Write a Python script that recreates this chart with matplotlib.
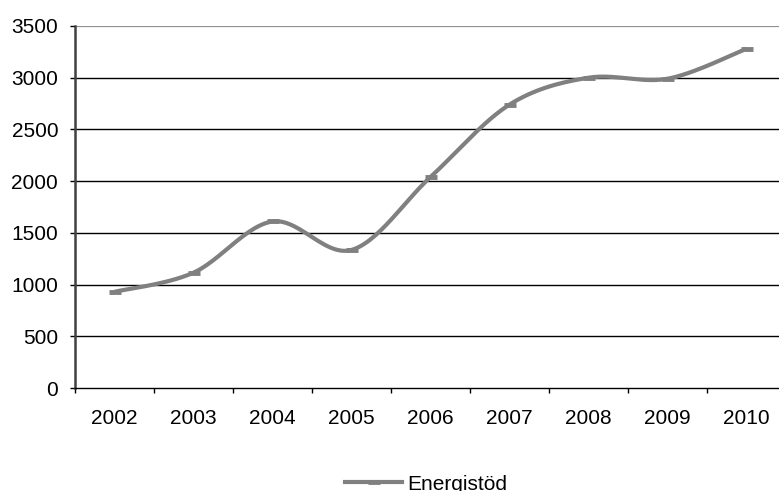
import numpy as np
import matplotlib.pyplot as plt
from matplotlib.lines import Line2D

plt.rcParams['font.family'] = ['Liberation Sans', 'DejaVu Sans']

years = ["2002", "2003", "2004", "2005", "2006", "2007", "2008", "2009", "2010"]
energistod = [930, 1115, 1610, 1335, 2040, 2740, 3000, 2990, 3280]
y_ticks = [0, 500, 1000, 1500, 2000, 2500, 3000, 3500]

line_color = "#808080"


def smooth(xs, ys, steps=30):
    # Catmull-Rom style bezier through every point, like a spreadsheet "smoothed line"
    pts = np.column_stack([xs, ys]).astype(float)
    padded = np.vstack([pts[0], pts, pts[-1]])
    out = []
    for i in range(len(pts) - 1):
        p0, p1, p2, p3 = padded[i], padded[i + 1], padded[i + 2], padded[i + 3]
        c1 = p1 + (p2 - p0) / 6
        c2 = p2 - (p3 - p1) / 6
        t = np.linspace(0, 1, steps)[:, None]
        seg = ((1 - t) ** 3) * p1 + 3 * ((1 - t) ** 2) * t * c1 + 3 * (1 - t) * t ** 2 * c2 + t ** 3 * p2
        out.append(seg if i == 0 else seg[1:])
    seg = np.vstack(out)
    return seg[:, 0], seg[:, 1]


fig = plt.figure(figsize=(7.79, 4.91), dpi=100)
ax = fig.add_axes([75 / 779, 103 / 491, 711 / 779, 362 / 491])

x = np.arange(len(years))
sx, sy = smooth(x, energistod)
ax.plot(sx, sy, color=line_color, lw=3, solid_capstyle='butt', zorder=3)
ax.plot(x, energistod, ls='none', marker='_', ms=8, mew=3.5, color=line_color, zorder=4)

ax.set_xlim(-0.5, len(years) - 0.5)
ax.set_ylim(0, 3500)
ax.set_yticks(y_ticks)
ax.set_yticklabels([str(v) for v in y_ticks])
ax.set_xticks(x)
ax.set_xticklabels(years)
ax.set_xticks(np.arange(-0.5, len(years), 1), minor=True)

for v in y_ticks[1:-1]:
    ax.axhline(v, color='black', lw=1, zorder=1)
ax.axhline(3500, color='#909090', lw=1.6, zorder=1)

for side in ['top', 'right']:
    ax.spines[side].set_visible(False)
ax.spines['left'].set_color('#404040')
ax.spines['left'].set_linewidth(1.8)
ax.spines['bottom'].set_color('black')
ax.spines['bottom'].set_linewidth(1)

ax.tick_params(axis='x', which='major', length=0, pad=15, labelsize=15)
ax.tick_params(axis='x', which='minor', length=3.6, width=1, direction='out')
ax.tick_params(axis='y', length=3.6, width=1, pad=8.5, labelsize=15, direction='out')

handle = Line2D([], [], color=line_color, lw=3, marker='_', ms=8, mew=3.5)
fig.legend([handle], ["Energistöd"], loc='center left', bbox_to_anchor=(345 / 779, 7 / 491),
           frameon=False, fontsize=15, handlelength=2.75, handletextpad=0.25,
           borderpad=0, borderaxespad=0)

fig.savefig("out.png", dpi=100)
